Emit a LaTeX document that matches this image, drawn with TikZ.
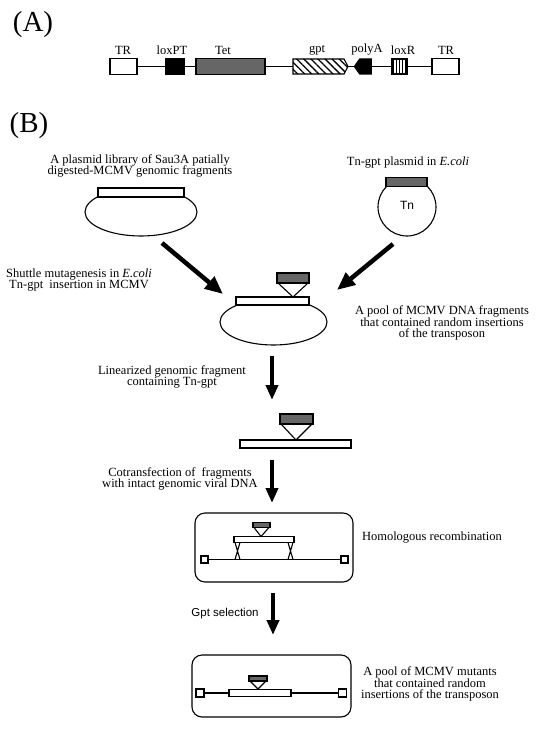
\documentclass[tikz,border=0pt]{standalone}
\usepackage{fontspec}
\setmainfont{Liberation Serif}
\setsansfont{Liberation Sans}
\usetikzlibrary{arrows.meta,shapes.geometric,shapes.symbols,patterns.meta}

\begin{document}
\begin{tikzpicture}
  [x=1pt,y=-1pt,line width=1.1pt,
   every node/.style={inner sep=0pt,outer sep=0pt},
   part/.style={draw,fill=white},
   tn/.style={draw,fill=black!60},
   lbl/.style={align=center,font=\fontsize{12.5}{11.5}\selectfont},
   big/.style={font=\fontsize{29}{29}\selectfont},
   bigarrow/.style={line width=4.5pt,-{Triangle[length=18pt,width=15pt]}},
   downarrow/.style={line width=4pt,-{Triangle[length=15pt,width=12pt]}}]
  \useasboundingbox (0,0) rectangle (539,738);

  % (A) the transposon
  \node[big] (pa) at (33,25) {(A)};
  \node[part,minimum width=27,minimum height=16] (trL) at (123.5,66.5) {};
  \node[part,fill=black,minimum width=18,minimum height=15] (loxpt) at (175,66.5) {};
  \node[tn,minimum width=69,minimum height=16] (tet) at (230.5,66.5) {};
  \node[draw,signal,signal to=east,signal pointer angle=125,minimum width=55,minimum height=15,
        pattern={Lines[angle=-45,distance=5pt,line width=1.3pt]}] (gpt) at (318.5,66.5) {};
  \node[draw,fill=black,signal,signal to=west,signal pointer angle=110,minimum width=17,minimum height=15] (polya) at (365.5,66.5) {};
  \node[draw,minimum width=15,minimum height=15,
        pattern={Lines[angle=90,distance=3pt,line width=0.9pt]}] (loxr) at (399.5,66.5) {};
  \node[part,minimum width=27,minimum height=16] (trR) at (445.5,66.5) {};

  \foreach \n/\x/\t in {l1/123/TR,l2/172/loxPT,l3/223/Tet,l4/317/gpt,l5/367/polyA,l6/403/loxR,l7/446/TR}
    \node[lbl] (\n) at (\x,50) {\t};

  \foreach \from/\to in {trL/loxpt,loxpt/tet,tet/gpt,gpt/polya,polya/loxr,loxr/trR}
    \draw (\from) -- (\to);

  % (B) the mutagenesis
  \node[big] (pb) at (29,126) {(B)};
  \node[lbl] (t1) at (140,166) {A plasmid library of Sau3A patially\\digested-MCMV genomic fragments};
  \node[draw,ellipse,minimum width=112,minimum height=48] (pl1) at (141,212) {};
  \node[part,minimum width=86,minimum height=9] (fr1) at (141,192.5) {};

  \node[lbl] (t2) at (408,163) {Tn-gpt plasmid in \textit{E.coli}};
  \node[draw,circle,minimum size=58,font=\sffamily\fontsize{12}{12}\selectfont] (pl2) at (407,207) {\raisebox{4pt}{Tn}};
  \node[tn,minimum width=41,minimum height=9] (tn2) at (406.5,182) {};

  \coordinate (a1s) at (162,243);
  \coordinate (a1e) at (223,294);
  \coordinate (a2s) at (393,244);
  \coordinate (a2e) at (337,290);
  \draw[bigarrow] (a1s) -- (a1e);
  \draw[bigarrow] (a2s) -- (a2e);
  \node[lbl] (t3) at (79,280) {Shuttle mutagenesis in \textit{E.coli}\\Tn-gpt\ \ insertion in MCMV};

  \node[draw,ellipse,minimum width=107,minimum height=46] (pl3) at (273.5,322) {};
  \node[part,minimum width=73,minimum height=8] (fr3) at (272.5,301) {};
  \node[tn,minimum width=32,minimum height=10] (tn3) at (293,278) {};
  \coordinate (ap3) at (293,297);
  \draw ([xshift=1]tn3.south west) -- (ap3) -- ([xshift=-1]tn3.south east);
  \node[lbl] (t4) at (442,323) {A pool of MCMV DNA fragments\\that contained random insertions\\of the transposon};

  \coordinate (d1s) at (272,356);
  \coordinate (d1e) at (272,400);
  \draw[downarrow] (d1s) -- (d1e);
  \node[lbl] (t5) at (172,377) {Linearized genomic fragment\\containing Tn-gpt};

  \node[part,minimum width=111,minimum height=8] (fr4) at (295.5,444) {};
  \node[tn,minimum width=33,minimum height=10] (tn4) at (296.5,419) {};
  \coordinate (ap4) at (296,440);
  \draw ([xshift=1]tn4.south west) -- (ap4) -- ([xshift=-1]tn4.south east);

  \coordinate (d2s) at (272,460);
  \coordinate (d2e) at (272,503);
  \draw[downarrow] (d2s) -- (d2e);
  \node[lbl] (t6) at (180,479) {Cotransfection of\ \ fragments\\with intact genomic viral DNA};

  % recombination in the cell
  \node[draw,rounded corners=10pt,minimum width=158,minimum height=69] (bx1) at (274,547.5) {};
  \node[part,minimum size=7] (s1) at (204.5,559.5) {};
  \node[part,minimum size=7] (s2) at (344.5,559.5) {};
  \draw[line width=1.4pt] (s1) -- (s2);
  \node[part,minimum width=60,minimum height=6] (fr5) at (264,539.5) {};
  \node[tn,minimum width=17,minimum height=5] (tn5) at (261.5,525) {};
  \coordinate (ap5) at (261,536.5);
  \draw ([xshift=1]tn5.south west) -- (ap5) -- ([xshift=-1]tn5.south east);
  \draw (235,542.5) -- (240,559.5) (240,542.5) -- (235,559.5);
  \draw (288,542.5) -- (293,559.5) (293,542.5) -- (288,559.5);
  \node[lbl,anchor=west] (t7) at (362,538) {Homologous recombination};

  \coordinate (d3s) at (273,593);
  \coordinate (d3e) at (273,635);
  \draw[downarrow] (d3s) -- (d3e);
  \node[font=\sffamily\fontsize{11.5}{12}\selectfont] (t8) at (225,614) {Gpt selection};

  % the mutant genome
  \node[draw,rounded corners=10pt,minimum width=159,minimum height=62] (bx2) at (271.5,686) {};
  \node[part,minimum size=8] (s3) at (200,693) {};
  \node[part,minimum size=8] (s4) at (342.5,693) {};
  \node[part,minimum width=62,minimum height=7] (fr6) at (260,693) {};
  \foreach \from/\to in {s3/fr6,fr6/s4}
    \draw[line width=1.4pt] (\from) -- (\to);
  \node[tn,minimum width=18,minimum height=5] (tn6) at (258,678.5) {};
  \coordinate (ap6) at (258,689);
  \draw ([xshift=1]tn6.south west) -- (ap6) -- ([xshift=-1]tn6.south east);
  \node[lbl] (t9) at (430,684) {A pool of MCMV mutants\\that contained random\\insertions of the transposon};

\end{tikzpicture}
\end{document}
